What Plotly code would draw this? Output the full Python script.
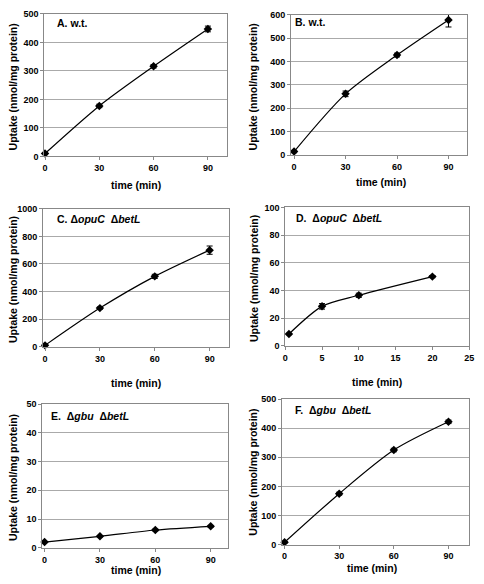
import plotly.graph_objects as go

# ---- data ----
time_min = [0, 30, 60, 90]
a_vals = [10, 177, 316, 447]
a_err = [4, 6, 6, 10]
b_vals = [15, 262, 428, 578]
b_err = [5, 12, 8, 30]
c_vals = [10, 280, 510, 700]
c_err = [5, 8, 15, 30]
d_time = [0.5, 5, 10, 20]
d_vals = [8.5, 28.5, 36.5, 50]
d_err = [0.5, 2, 1.5, 0.8]
e_vals = [2, 4, 6.2, 7.5]
e_err = [0.2, 0.2, 0.3, 0.3]
f_vals = [8, 175, 325, 422]
f_err = [3, 5, 6, 6]

titles = ["A. w.t.", "B. w.t.",
          "C. Δ<i>opuC</i>  Δ<i>betL</i>", "D.  Δ<i>opuC</i>  Δ<i>betL</i>",
          "E.  Δ<i>gbu</i>  Δ<i>betL</i>", "F.  Δ<i>gbu</i>  Δ<i>betL</i>"]

W, H = 484, 584
FONT = "Liberation Sans, Arial, sans-serif"

# panel layouts in pixel coords: (x0, x1, ytop, ybottom)
panels = [
    dict(x=time_min, y=a_vals, e=a_err, px=(42, 228), py=(9, 154), xr=[-0.4, 100.7], yr=[0, 500], dt=100,
         xt=[0, 30, 60, 90], title=(53, 18), ytitle=(10, 83), xtitle=(135, 183)),
    dict(x=time_min, y=b_vals, e=b_err, px=(293, 472), py=(10, 152.7), xr=[-1.7, 100.9], yr=[0, 600], dt=100,
         xt=[0, 30, 60, 90], title=(295, 17.5), ytitle=(254, 83), xtitle=(384, 180)),
    dict(x=time_min, y=c_vals, e=c_err, px=(40.7, 230), py=(207.3, 347.7), xr=[-1.1, 100.7], yr=[0, 1000], dt=200,
         xt=[0, 30, 60, 90], title=(53, 218), ytitle=(10, 279), xtitle=(135, 385)),
    dict(x=d_time, y=d_vals, e=d_err, px=(287, 474), py=(206, 346.7), xr=[0, 25], yr=[0, 100], dt=20,
         xt=[0, 5, 10, 15, 20, 25], title=(296, 217), ytitle=(255, 278), xtitle=(380, 384)),
    dict(x=time_min, y=e_vals, e=e_err, px=(40, 229), py=(406, 552.3), xr=[-1.2, 99.5], yr=[0, 50], dt=10,
         xt=[0, 30, 60, 90], title=(47, 418), ytitle=(9.5, 481), xtitle=(135, 575)),
    dict(x=time_min, y=f_vals, e=f_err, px=(283.7, 473.7), py=(401, 549), xr=[-1.4, 101.2], yr=[0, 500], dt=100,
         xt=[0, 30, 60, 90], title=(295, 412), ytitle=(254, 475), xtitle=(375, 573)),
]

fig = go.Figure()
layout = dict(width=W, height=H, margin=dict(l=0, r=0, t=0, b=0),
              paper_bgcolor="white", plot_bgcolor="white", showlegend=False,
              font=dict(family=FONT, size=9, color="black"))
annotations = []
for i, p in enumerate(panels, start=1):
    sfx = "" if i == 1 else str(i)
    fig.add_trace(go.Scatter(
        x=p["x"], y=p["y"], mode="lines+markers",
        line=dict(color="black", width=1.2, shape="spline", smoothing=0.8),
        marker=dict(symbol="diamond", size=6.5, color="black"),
        error_y=dict(type="data", array=p["e"], color="black", thickness=1, width=3),
        cliponaxis=False,
        xaxis="x" + sfx, yaxis="y" + sfx))
    x0, x1 = p["px"]
    yt, yb = p["py"]
    layout["xaxis" + sfx] = dict(
        domain=[x0 / W, x1 / W], range=p["xr"], anchor="y" + sfx,
        tickvals=p["xt"], ticks="outside", ticklen=3, tickcolor="#888",
        showline=True, linecolor="#888", linewidth=1, mirror=True,
        showgrid=False, zeroline=False, ticklabeloverflow="allow",
        tickfont=dict(family=FONT, size=9, color="black", weight="bold"))
    layout["yaxis" + sfx] = dict(
        domain=[1 - yb / H, 1 - yt / H], range=p["yr"], anchor="x" + sfx,
        dtick=p["dt"], tick0=0, ticks="outside", ticklen=3, tickcolor="#888",
        showline=True, linecolor="#888", linewidth=1, mirror=True,
        showgrid=True, gridcolor="#aaaaaa", gridwidth=1, zeroline=False,
        ticklabeloverflow="allow",
        tickfont=dict(family=FONT, size=9, color="black", weight="bold"))
    tx, ty = p["title"]
    annotations.append(dict(text="<b>" + titles[i - 1] + "</b>", x=tx / W, y=1 - ty / H,
                            xref="paper", yref="paper", xanchor="left", yanchor="middle",
                            showarrow=False, font=dict(family=FONT, size=10.5, color="black")))
    ax_, ay_ = p["ytitle"]
    annotations.append(dict(text="<b>Uptake (nmol/mg protein)</b>", x=ax_ / W, y=1 - ay_ / H,
                            xref="paper", yref="paper", xanchor="center", yanchor="middle",
                            textangle=-90, showarrow=False,
                            font=dict(family=FONT, size=10.5, color="black")))
    bx, by = p["xtitle"]
    annotations.append(dict(text="<b>time (min)</b>", x=bx / W, y=1 - by / H,
                            xref="paper", yref="paper", xanchor="center", yanchor="middle",
                            showarrow=False, font=dict(family=FONT, size=10.5, color="black")))

layout["annotations"] = annotations
fig.update_layout(**layout)
fig.write_html("out.html", config={"displayModeBar": False},
               post_script="document.body.style.margin='0';document.body.style.overflow='hidden';")
